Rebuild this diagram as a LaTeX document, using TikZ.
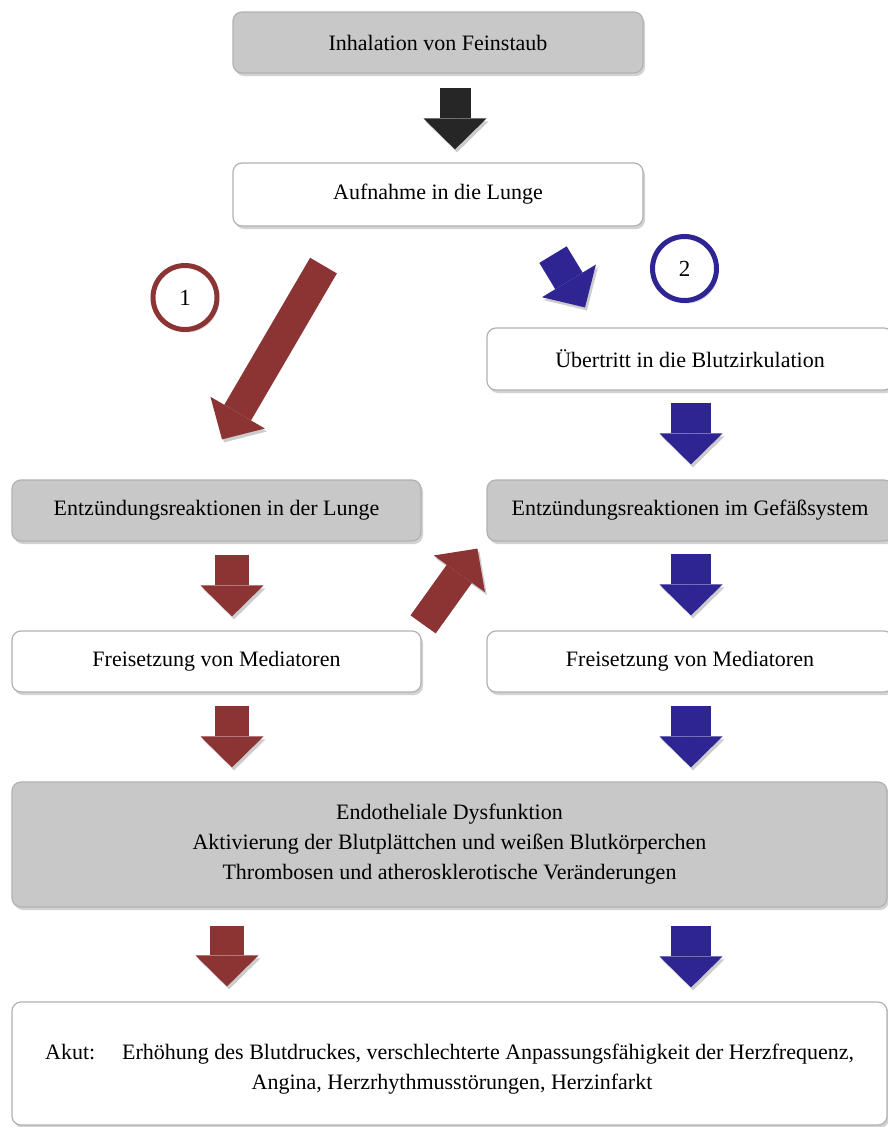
\documentclass[tikz,border=0pt]{standalone}
\usepackage{fontspec}
\setmainfont{Liberation Serif}
\usetikzlibrary{calc,arrows.meta,shadows,positioning}
\definecolor{darkred}{RGB}{140,52,52}
\definecolor{darkblue}{RGB}{46,36,146}
\definecolor{boxgrey}{RGB}{200,200,200}
\tikzset{
    box/.style = {
        draw = gray!60,
        line width = 1.2pt,
        rounded corners = 9pt,
        fill = white,
        inner sep = 0pt,
        align = center,
        font = \fontsize{22}{30}\selectfont,
        drop shadow = {shadow xshift=2pt, shadow yshift=-3pt, opacity=0.35},
        },
    grey box/.style = {
        box,
        fill = boxgrey,
        },
    plain text/.style = {
        inner sep = 0pt,
        font = \fontsize{22}{30}\selectfont,
        },
    ring/.style = {
        circle,
        draw = #1,
        line width = 5pt,
        minimum size = 64pt,
        fill = white,
        font = \fontsize{23}{26}\selectfont,
        drop shadow = {shadow xshift=2pt, shadow yshift=-3pt, opacity=0.3},
        },
    block arrow/.style = {
        line width = 34pt,
        -{Triangle[length=31pt, width=63pt, line width=0pt]},
        preaction = {draw=black, opacity=0.2, transform canvas={xshift=2pt, yshift=-3pt}},
        },
    red arrow/.style = {
        block arrow,
        draw = darkred,
        },
    blue arrow/.style = {
        block arrow,
        draw = darkblue,
        line width = 40pt,
        },
    black arrow/.style = {
        block arrow,
        draw = black!85,
        line width = 31pt,
        },
}
\begin{document}
\begin{tikzpicture}[x=1pt, y=-1pt]
    \fill[white] (0,0) rectangle (888,1127);
    \useasboundingbox (0,0) rectangle (888,1127);

    % boxes
    \node[grey box, minimum width=410pt, minimum height=61pt] (inh) at (438,42.5) {Inhalation von Feinstaub};
    \node[box, minimum width=410pt, minimum height=63pt] (auf) at (438,194.5) {Aufnahme in die Lunge};
    \node[box, minimum width=406pt, minimum height=62pt] (ueb) at (690,359) {Übertritt in die Blutzirkulation};
    \node[grey box, minimum width=409pt, minimum height=61pt] (lung) at (216.5,510.5) {Entzündungsreaktionen in der Lunge};
    \node[grey box, minimum width=406pt, minimum height=61pt] (gef) at (690,510.5) {Entzündungsreaktionen im Gefäßsystem};
    \node[box, minimum width=409pt, minimum height=61pt] (medl) at (216.5,661.5) {Freisetzung von Mediatoren};
    \node[box, minimum width=406pt, minimum height=61pt] (medr) at (690,661.5) {Freisetzung von Mediatoren};
    \node[grey box, minimum width=875pt, minimum height=125pt] (endo) at (449.5,844.5)
        {Endotheliale Dysfunktion\\Aktivierung der Blutplättchen und weißen Blutkörperchen\\Thrombosen und atherosklerotische Veränderungen};
    \node[box, minimum width=875pt, minimum height=123pt] (akut) at (449.5,1063.5) {};

    \node[plain text, anchor=base west] (akut lbl) at (45,1059) {Akut:};
    \node[plain text, anchor=base west] (akut l1) at (122,1059)
        {Erhöhung des Blutdruckes, verschlechterte Anpassungsfähigkeit der Herzfrequenz,};
    \node[plain text, anchor=base] (akut l2) at (452,1089) {Angina, Herzrhythmusstörungen, Herzinfarkt};

    % path numbers
    \node[ring=darkred] (one) at (185,297.5) {1};
    \node[ring=darkblue] (two) at (684.5,268.5) {2};

    % arrows
    \draw[black arrow] ($(inh.south)+(17,14)$) -- ($(auf.north)+(17,-13)$);
    \draw[red arrow, line width=31pt] ($(auf.south)+(-114.5,39)$) -- ($(lung.north)+(5.5,-40)$);
    \draw[blue arrow, line width=32pt] ($(auf.south)+(115,28)$) -- ($(ueb.north)+(-105,-20)$);
    \draw[blue arrow] ($(ueb.south)+(1,12)$) -- ($(gef.north)+(1,-15)$);
    \draw[red arrow] ($(lung.south)+(15.5,13)$) -- ($(medl.north)+(15.5,-14)$);
    \draw[blue arrow] ($(gef.south)+(1,12)$) -- ($(medr.north)+(1,-15)$);
    \draw[red arrow, line width=31pt] ($(medl.north east)+(1.5,-6)$) -- ($(gef.south west)+(-9,7)$);
    \draw[red arrow] ($(medl.south)+(15.5,13)$) -- ($(endo.north)+(-217.5,-14)$);
    \draw[blue arrow] ($(medr.south)+(1,13)$) -- ($(endo.north)+(241.5,-14)$);
    \draw[red arrow] ($(endo.south)+(-222.5,18)$) -- ($(akut.north)+(-222.5,-15)$);
    \draw[blue arrow] ($(endo.south)+(241.5,18)$) -- ($(akut.north)+(241.5,-14)$);
\end{tikzpicture}
\end{document}
